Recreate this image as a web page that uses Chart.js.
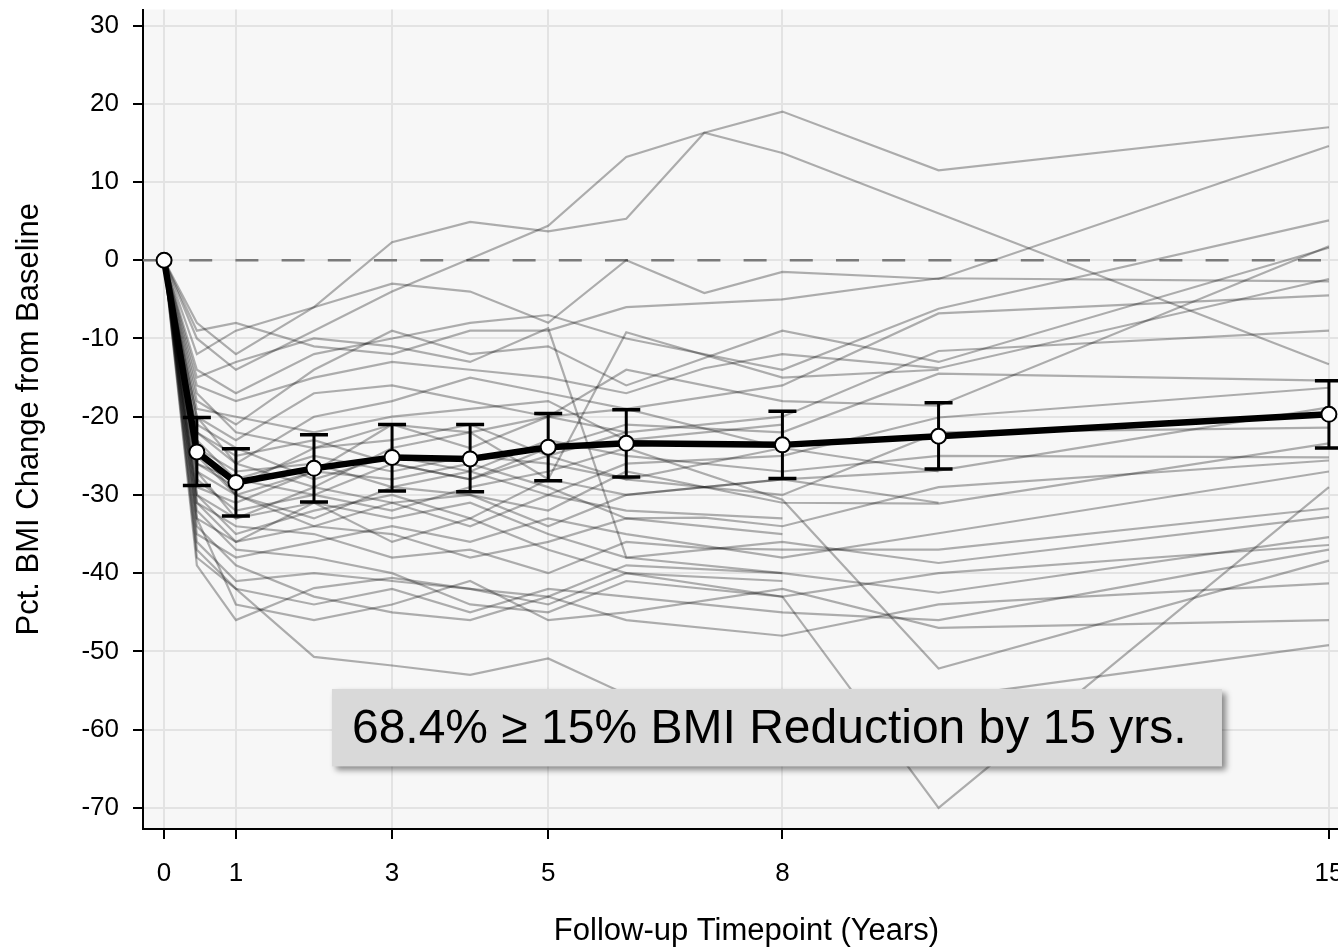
<!DOCTYPE html>
<html>
<head>
<meta charset="utf-8">
<script src="https://cdn.jsdelivr.net/npm/chart.js@4.4.1/dist/chart.umd.min.js"></script>
<style>
  html, body { margin: 0; padding: 0; background: #fff; overflow: hidden; }
  #wrap { width: 1338px; height: 947px; overflow: hidden; }
  canvas { display: block; }
</style>
</head>
<body>
<div id="wrap"><canvas id="bmi" width="1360" height="947"></canvas></div>
<script>
(function () {
  "use strict";

  // follow-up timepoints (years); baseline sits a touch right of 0 in the original
  var patientTimes = [0.08, 0.5, 1, 2, 3, 4, 5, 6, 7, 8, 10, 15];
  var meanTimes = [0.08, 0.5, 1, 2, 3, 4, 5, 6, 8, 10, 15];

  // mean % BMI change with error bar ends
  var meanChange = [0, -24.5, -28.4, -26.6, -25.2, -25.4, -23.9, -23.4, -23.6, -22.5, -19.7];
  var errUpper = [null, -20.1, -24.1, -22.3, -21.0, -21.0, -19.6, -19.1, -19.3, -18.2, -15.4];
  var errLower = [null, -28.8, -32.7, -30.9, -29.5, -29.6, -28.2, -27.7, -27.9, -26.7, -24.0];

  // individual patients, one row per patient, values at patientTimes (null = no visit)
  var patientChange = [
    [0, -8, -12, -6, 2.3, 4.9, 3.7, 5.3, 16.3, 13.7, null, -13.3],
    [0, -10, -14, -9, -4, 0.2, 4.4, 13.2, 16.3, 19, 11.5, 17],
    [0, -12, -9, -6, -3, -4, -8, 0, -4.2, -1.5, -2.4, 14.6],
    [0, -14, -17, -12, -10, -8, -7, -10, null, -14, -6.2, 5.1],
    [0, -18, -21, -14, -9, -12, -11, -16, null, -9, -13, 1.6],
    [0, -20, -23, -17, -16, -18, -20, -14, null, -18, -18.6, 1.8],
    [0, -16, -18, -15, -13, -14, -15, -17, -13.8, -12, -13.8, -2.4],
    [0, -9, -8, -11, -12, -9, -9, -6, null, -5, -2.3, -2.7],
    [0, -22, -26, -20, -18, -15, -17, -19, null, -16, -6.8, -4.5],
    [0, -25, -30, -27, -21, -24, -20, -22, null, -20, -11.6, -9],
    [0, -28, -32, -30, -26, -28, -24, -21, null, -22, -14.5, -15.4],
    [0, -24, -27, -26, -29, -27, -30, -26, null, -25, -20.1, -16.3],
    [0, -30, -35, -32, -30, -33, -28, -30, null, -28, -26.9, -18.8],
    [0, -26, -29, -24, -23, -21, -25, -28, null, -30, -22, -21.4],
    [0, -33, -36, -34, -31, -30, -32, -27, null, -31, -31.1, -23.4],
    [0, -21, -24, -28, -25, -27, -23, -25, null, -27, -25, -25.2],
    [0, -29, -31, -27, -28, -26, -29, -33, -32.9, -34, -29, -25.6],
    [0, -35, -38, -36, -34, -36, -33, -35, null, -38, -34.9, -27],
    [0, -31, -34, -35, -38, -37, -40, -36, -36.8, -37, -37, -31.7],
    [0, -27, -33, -31, -33, -31, -35, -38, null, -36, -38.7, -32.8],
    [0, -36, -41, -40, -41, -42, -43, -39, null, -40, -42.5, -35.4],
    [0, -32, -37, -38, -40, -44, -45, -41, null, -43, -40, -36.4],
    [0, -37, -42, -44, -42, -45, -42, -43, null, -45, -46, -37],
    [0, -23, -28, -30, -32, -29, -27, -24, null, -30.6, -52.2, -38.4],
    [0, -39, -46, -41.9, -40.6, -42, -44, -40, null, -43, -70, -29],
    [0, -38, -42, -50.7, -51.8, -53, -50.9, -55.5, null, -57, -56, -49.2],
    [0, -34, -39, -43, -45, -46, -43, -46, null, -48, -44, -41.3],
    [0, -33, -44, -46, -44, -41, -46, -45, null, -42, -47, -46],
    [0, -19, -20, -22, -20, -19, -18, -23, null, -21, null, null],
    [0, -26, -28, -25, -27, -25, -26, -28, null, -24, null, null],
    [0, -17, -22, -24, -21, -22, -28, -9.2, null, -15, -14, null],
    [0, -30, -33, -29, -31, -34, -30, -32, null, -33, null, null],
    [0, -22, -25, -23, -26, -28, -25, -22, null, null, null, null],
    [0, -27, -30, -33, -29, -30, -34, -30, null, -28, -31, null],
    [0, -15, -13, -10, -11, -13, -8.7, -38, null, -40, null, null],
    [0, -31, -36, -31, -36, -33, -37, -40, null, -41, null, null],
    [0, -20, -26, -29, -24, -22, -20, -19, null, -24, -27, null],
    [0, -24, -30, -34, -35, -38, -36, -33, null, -35, null, null]
  ];

  var xTickValues = [0.08, 1, 3, 5, 8, 15];
  var xTickLabels = ["0", "1", "3", "5", "8", "15"];
  var yTickValues = [30, 20, 10, 0, -10, -20, -30, -40, -50, -60, -70];
  var referenceLine = 0;
  var noteText = "68.4% \u2265 15% BMI Reduction by 15 yrs.";

  var FONT = "'Liberation Sans', Arial, Helvetica, sans-serif";

  function points(times, values) {
    var out = [];
    for (var i = 0; i < times.length; i++) out.push({ x: times[i], y: values[i] });
    return out;
  }

  var datasets = [{
    label: "Mean",
    data: points(meanTimes, meanChange),
    borderColor: "#000",
    borderWidth: 6.5,
    pointRadius: 7.5,
    pointBorderWidth: 2,
    pointBackgroundColor: "#fff",
    pointBorderColor: "#000",
    tension: 0,
    order: 0
  }];
  for (var p = 0; p < patientChange.length; p++) {
    datasets.push({
      label: "Patient " + (p + 1),
      data: points(patientTimes, patientChange[p]),
      borderColor: "rgba(0,0,0,0.3)",
      borderWidth: 2.2,
      pointRadius: 0,
      spanGaps: true,
      tension: 0,
      order: 1
    });
  }

  var plotBackground = {
    id: "plotBackground",
    beforeDraw: function (chart) {
      var a = chart.chartArea, ctx = chart.ctx;
      ctx.save();
      ctx.fillStyle = "#f7f7f7";
      ctx.fillRect(a.left, a.top, a.right - a.left, a.bottom - a.top);
      ctx.restore();
    }
  };

  var zeroLine = {
    id: "zeroLine",
    beforeDatasetsDraw: function (chart) {
      var a = chart.chartArea, ctx = chart.ctx;
      var y = chart.scales.y.getPixelForValue(referenceLine);
      ctx.save();
      ctx.strokeStyle = "#7a7a7a";
      ctx.lineWidth = 2.5;
      ctx.setLineDash([23, 23.2]);
      ctx.beginPath();
      ctx.moveTo(a.left, y);
      ctx.lineTo(a.right, y);
      ctx.stroke();
      ctx.restore();
    }
  };

  var errorBars = {
    id: "errorBars",
    beforeDatasetDraw: function (chart, args) {
      if (args.index !== 0) return;
      var xs = chart.scales.x, ys = chart.scales.y, ctx = chart.ctx;
      ctx.save();
      ctx.strokeStyle = "#000";
      for (var i = 0; i < meanTimes.length; i++) {
        if (errUpper[i] == null) continue;
        var x = xs.getPixelForValue(meanTimes[i]);
        var top = ys.getPixelForValue(errUpper[i]);
        var bot = ys.getPixelForValue(errLower[i]);
        ctx.lineWidth = 3;
        ctx.beginPath();
        ctx.moveTo(x, top); ctx.lineTo(x, bot);
        ctx.stroke();
        ctx.lineWidth = 3.5;
        ctx.beginPath();
        ctx.moveTo(x - 14, top); ctx.lineTo(x + 14, top);
        ctx.moveTo(x - 14, bot); ctx.lineTo(x + 14, bot);
        ctx.stroke();
      }
      ctx.restore();
    }
  };

  var noteBox = {
    id: "noteBox",
    afterDatasetsDraw: function (chart) {
      var xs = chart.scales.x, ys = chart.scales.y, ctx = chart.ctx;
      var left = xs.getPixelForValue(2.23), right = xs.getPixelForValue(13.63);
      var top = ys.getPixelForValue(-54.8), bottom = ys.getPixelForValue(-64.7);
      ctx.save();
      ctx.shadowColor = "rgba(0,0,0,0.45)";
      ctx.shadowBlur = 6;
      ctx.shadowOffsetX = 4;
      ctx.shadowOffsetY = 4;
      ctx.fillStyle = "#d9d9d9";
      ctx.fillRect(left, top, right - left, bottom - top);
      ctx.restore();
      ctx.save();
      ctx.fillStyle = "#000";
      ctx.font = "48px " + FONT;
      ctx.textBaseline = "alphabetic";
      ctx.textAlign = "left";
      ctx.fillText(noteText, left + 20, bottom - 23);
      ctx.restore();
    }
  };

  new Chart(document.getElementById("bmi"), {
    type: "line",
    data: { datasets: datasets },
    options: {
      responsive: false,
      devicePixelRatio: 1,
      animation: false,
      layout: { padding: { top: 8, right: 10, left: 0, bottom: 0 } },
      plugins: { legend: { display: false }, tooltip: { enabled: false } },
      scales: {
        x: {
          type: "linear",
          min: -0.19,
          max: 15.27,
          afterFit: function (s) {
            s.height = 118;
            s.paddingLeft = 0; s.paddingRight = 0;
          },
          afterBuildTicks: function (s) {
            s.ticks = xTickValues.map(function (v) { return { value: v }; });
          },
          ticks: {
            autoSkip: false,
            maxRotation: 0,
            padding: 19,
            color: "#000",
            font: { family: FONT, size: 26 },
            callback: function (v, i) { return xTickLabels[i]; }
          },
          grid: { color: "#e3e3e3", lineWidth: 2, tickColor: "#000", tickWidth: 2, tickLength: 10 },
          border: { color: "#000", width: 2 },
          title: {
            display: true,
            text: "Follow-up Timepoint (Years)",
            color: "#000",
            font: { family: FONT, size: 31 },
            padding: { top: 0, bottom: -3 }
          }
        },
        y: {
          min: -72.7,
          max: 32.05,
          afterFit: function (s) {
            s.width = 143;
            s.paddingTop = 0; s.paddingBottom = 0;
          },
          afterBuildTicks: function (s) {
            s.ticks = yTickValues.map(function (v) { return { value: v }; });
          },
          ticks: {
            padding: 14,
            color: "#000",
            font: { family: FONT, size: 26 },
            callback: function (v) { return String(v); }
          },
          grid: { color: "#e3e3e3", lineWidth: 2, tickColor: "#000", tickWidth: 2, tickLength: 10 },
          border: { color: "#000", width: 2 },
          title: {
            display: true,
            text: "Pct. BMI Change from Baseline",
            color: "#000",
            font: { family: FONT, size: 31 },
            padding: { top: 11, bottom: 0 }
          }
        }
      }
    },
    plugins: [plotBackground, zeroLine, errorBars, noteBox]
  });
})();
</script>
</body>
</html>
